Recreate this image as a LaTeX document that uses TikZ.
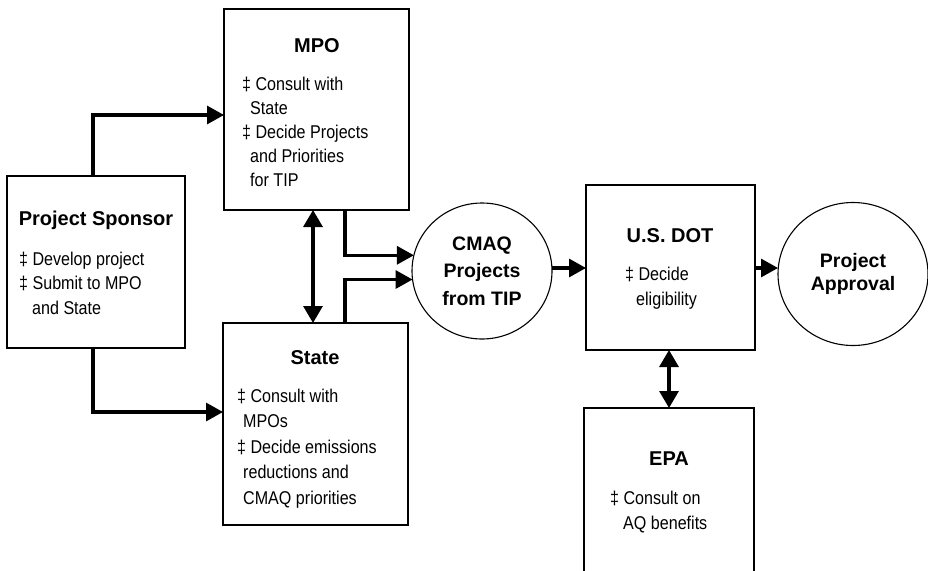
\documentclass[tikz,border=0pt]{standalone}
\usepackage{fontspec}
\setmainfont{Liberation Sans}
\newfontfamily\bodyfont[FakeStretch=0.87]{Liberation Sans}
\usetikzlibrary{arrows.meta,shapes.geometric,calc}
\begin{document}
\begin{tikzpicture}[x=1pt,y=-1pt,
  box/.style={draw,line width=1.2pt,inner sep=0pt,outer sep=0pt},
  oval/.style={draw,ellipse,line width=1.1pt,inner sep=0pt,outer sep=0pt,align=center,
     font=\bfseries\fontsize{19.5}{27.5}\selectfont},
  title/.style={anchor=base,inner sep=0pt,font=\bfseries\fontsize{20}{24}\selectfont},
  body/.style={anchor=north west,inner sep=0pt,align=left,
     font=\bodyfont\fontsize{18.5}{#1}\selectfont},
  conn/.style={line width=3.2pt,-{Triangle[length=17pt,width=18pt]}},
  dbl/.style={line width=3.2pt,{Triangle[length=17pt,width=19pt]}-{Triangle[length=17pt,width=19pt]}}]
\useasboundingbox (0,0) rectangle (928,570);
\clip (0,0) rectangle (928,570);
\fill[white] (0,0) rectangle (928,570);
% boxes
\node[box,minimum width=178pt,minimum height=172pt] (sponsor) at (96,262) {};
\node[box,minimum width=185pt,minimum height=201pt] (mpo) at (316.5,109.5) {};
\node[box,minimum width=185pt,minimum height=202pt] (state) at (315.5,424) {};
\node[box,minimum width=169pt,minimum height=165pt] (dot) at (670.5,267.5) {};
\node[box,minimum width=170pt,minimum height=176pt] (epa) at (669,496) {};
\node[oval,minimum width=140pt,minimum height=136pt] (cmaq) at (482,271) {CMAQ\\Projects\\from TIP};
\node[oval,minimum width=150pt,minimum height=143pt,font=\bfseries\fontsize{19.5}{23}\selectfont] (appr) at (853,274) {Project\\Approval};
% titles
\node[title] (tsponsor) at (96,225) {Project Sponsor};
\node[title] (tmpo) at (317,52) {MPO};
\node[title] (tstate) at (315,364) {State};
\node[title] (tdot) at (670,242) {U.S. DOT};
\node[title] (tepa) at (669,465) {EPA};
% bodies
\node[body=24.5] (bsponsor) at (19,251.5) {‡ Develop project\\‡ Submit to MPO\\\hspace*{13pt}and State};
\node[body=24] (bmpo) at (242,76.5) {‡ Consult with\\\hspace*{8pt}State\\‡ Decide Projects\\\hspace*{8pt}and Priorities\\\hspace*{8pt}for TIP};
\node[body=25.5] (bstate) at (237,388.5) {‡ Consult with\\\hspace*{6pt}MPOs\\‡ Decide emissions\\\hspace*{6pt}reductions and\\\hspace*{6pt}CMAQ priorities};
\node[body=25] (bdot) at (625,266.5) {‡ Decide\\\hspace*{11pt}eligibility};
\node[body=25] (bepa) at (610,490.5) {‡ Consult on\\\hspace*{13pt}AQ benefits};
% helper coordinates
\coordinate (x93) at (93,0);
\coordinate (x313) at (313,0);
\coordinate (x345) at (345,0);
\coordinate (x669) at (669,0);
\coordinate (y115) at (0,115);
\coordinate (y412) at (0,412);
\coordinate (y268) at (0,268);
% connectors
\draw[conn] (sponsor.north -| x93) |- (mpo.west |- y115);
\draw[conn] (sponsor.south -| x93) |- (state.west |- y412);
\draw[dbl] (mpo.south -| x313) -- (state.north -| x313);
\draw[conn] (mpo.south -| x345) |- (cmaq.167);
\draw[conn] (state.north -| x345) |- (cmaq.187);
\draw[conn] (cmaq.east |- y268) -- (dot.west |- y268);
\draw[conn] (dot.east |- y268) -- (appr.west |- y268);
\draw[dbl] (dot.south -| x669) -- (epa.north -| x669);
\end{tikzpicture}
\end{document}
